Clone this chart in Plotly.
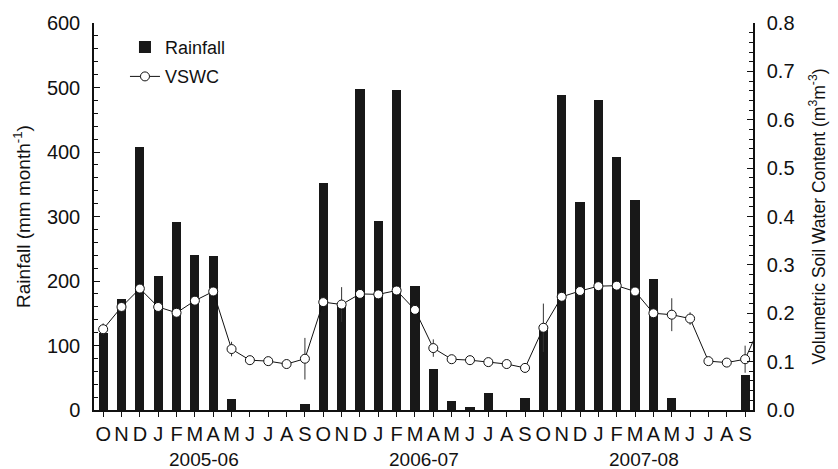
import plotly.graph_objects as go

# Month initials, Oct-Sep hydrological years
months = ["O", "N", "D", "J", "F", "M", "A", "M", "J", "J", "A", "S"] * 3
seasons = ["2005-06", "2006-07", "2007-08"]

# Monthly rainfall (mm month-1)
rainfall = [120, 172, 407, 207, 292, 240, 238, 17, 0, 0, 0, 10,
            352, 165, 497, 293, 496, 193, 64, 14, 4, 27, 0, 19,
            131, 488, 322, 481, 393, 325, 203, 18, 0, 0, 0, 54]

# Volumetric soil water content (m3 m-3); last value is Oct 2008
vswc = [0.167, 0.213, 0.251, 0.213, 0.201, 0.226, 0.245, 0.126, 0.103, 0.101, 0.095, 0.106,
        0.223, 0.218, 0.240, 0.239, 0.247, 0.207, 0.128, 0.105, 0.103, 0.099, 0.095, 0.087,
        0.170, 0.234, 0.246, 0.256, 0.257, 0.245, 0.200, 0.197, 0.189, 0.101, 0.098, 0.105,
        0.190]
vswc_err = [0.012, 0, 0, 0, 0, 0, 0, 0.015, 0, 0, 0, 0.043,
            0, 0.036, 0, 0, 0, 0, 0.018, 0, 0, 0, 0, 0,
            0.050, 0, 0, 0, 0, 0, 0, 0.034, 0.013, 0, 0, 0.028,
            0]

n_months = len(rainfall)
x_rain = list(range(n_months))
x_vswc = list(range(len(vswc)))
season_centres = [12 * i + 5.5 for i in range(len(seasons))]

FONT = "Liberation Sans, Arial, Helvetica, sans-serif"
INK = "#111111"
x_range = [-0.5, n_months - 0.57]

fig = go.Figure()

fig.add_trace(go.Bar(
    x=x_rain, y=rainfall, name="Rainfall",
    marker=dict(color="#181818", line=dict(width=0)),
    width=0.5, legendgroup="a", yaxis="y",
))

fig.add_trace(go.Scatter(
    x=x_vswc, y=vswc, name="VSWC", yaxis="y2",
    mode="lines+markers",
    line=dict(color=INK, width=1),
    marker=dict(symbol="circle", size=9, color="white",
                line=dict(color=INK, width=1)),
    error_y=dict(type="data", array=vswc_err, visible=True,
                 color="#333333", thickness=1, width=0),
    legendgroup="b",
))

axis_common = dict(showgrid=False, zeroline=False, showline=True,
                   linecolor=INK, linewidth=1.5, tickcolor=INK,
                   tickfont=dict(family=FONT, size=20, color=INK))

fig.update_layout(
    width=838, height=469,
    margin=dict(l=94, r=73, t=23, b=59),
    paper_bgcolor="white", plot_bgcolor="white",
    bargap=0,
    font=dict(family=FONT, color=INK),
    showlegend=True,
    legend=dict(x=0.047, y=0.985, xanchor="left", yanchor="top",
                bgcolor="rgba(0,0,0,0)", font=dict(family=FONT, size=18, color=INK),
                traceorder="grouped", tracegroupgap=3, itemwidth=30),
    xaxis=dict(axis_common, range=x_range, tickmode="array",
               tickvals=x_rain, ticktext=months,
               ticks="outside", ticklen=5, tickwidth=1),
    xaxis2=dict(axis_common, overlaying="x", side="top", range=x_range,
                tickmode="array", tickvals=x_rain, ticks="inside",
                ticklen=5, tickwidth=1, showticklabels=False),
    yaxis=dict(axis_common, range=[0, 600], tickmode="linear", tick0=0, dtick=100,
               ticks="inside", ticklen=6, tickwidth=1, ticklabelstandoff=8,
               minor=dict(ticks="inside", dtick=20, ticklen=4, tickcolor=INK, tickwidth=1),
               title=dict(text="Rainfall (mm month<sup>-1</sup>)",
                          font=dict(family=FONT, size=19, color=INK), standoff=11)),
    yaxis2=dict(axis_common, overlaying="y", side="right", range=[0, 0.8],
                tickmode="linear", tick0=0, dtick=0.1, tickformat=".1f",
                ticks="inside", ticklen=6, tickwidth=1, ticklabelstandoff=8,
                minor=dict(ticks="inside", dtick=0.02, ticklen=4, tickcolor=INK, tickwidth=1),
                title=dict(text="Volumetric Soil Water Content (m<sup>3</sup>m<sup>-3</sup>)",
                           font=dict(family=FONT, size=17.5, color=INK), standoff=19)),
)

for label, xc in zip(seasons, season_centres):
    fig.add_annotation(x=xc, xref="x", y=0, yref="paper", yshift=-49,
                       text=label, showarrow=False, yanchor="middle",
                       font=dict(family=FONT, size=19, color=INK))

fig.write_html("out.html")
